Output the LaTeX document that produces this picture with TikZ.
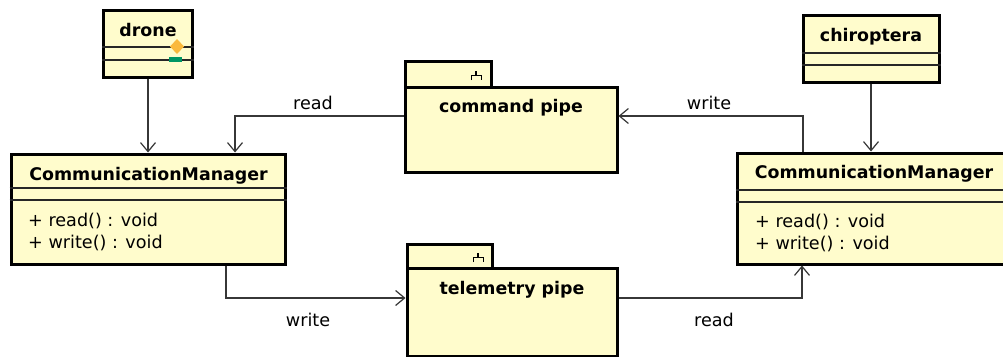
\documentclass[tikz,border=0pt]{standalone}
\usepackage{fontspec}
\setmainfont{DejaVu Sans}
\usetikzlibrary{arrows.meta}
\definecolor{boxfill}{RGB}{255,252,204}
\definecolor{linegray}{RGB}{55,55,55}
\definecolor{diamondorange}{RGB}{250,185,60}
\definecolor{barteal}{RGB}{0,150,100}
\tikzset{
  boxframe/.style={draw=black, line width=3pt, fill=boxfill, inner sep=0pt},
  sepline/.style={draw=black!85, line width=1.4pt},
  conn/.style={draw=linegray, line width=1.2pt, -{Straight Barb[length=9pt,width=15pt,line width=1.2pt]}},
  titletext/.style={anchor=base, inner sep=0pt, font=\fontsize{17.4}{20}\selectfont\bfseries},
  membertext/.style={anchor=base west, inner sep=0pt, font=\fontsize{17.6}{20}\selectfont},
  edgetext/.style={anchor=base, inner sep=0pt, font=\fontsize{17.6}{20}\selectfont},
  forkicon/.style={draw=black, line width=1.1pt}
}
\begin{document}
\begin{tikzpicture}[x=1pt, y=-1pt]
\useasboundingbox (0,0) rectangle (1003,356);
\fill[white] (0,0) rectangle (1003,356);

% ---- drone class ----
\node[boxframe, minimum width=89pt, minimum height=67pt] (drone) at (148,43.5) {};
\draw[sepline] (drone.west |- 0,47) -- (drone.east |- 0,47);
\draw[sepline] (drone.west |- 0,60) -- (drone.east |- 0,60);
\node[titletext] (droneT) at (148,36) {drone};
\fill[diamondorange] (177,39) -- (184,46.5) -- (177,54) -- (170,46.5) -- cycle;
\fill[barteal] (169,57) rectangle (182,62);

% ---- chiroptera class ----
\node[boxframe, minimum width=136pt, minimum height=67pt] (chiro) at (871,48.5) {};
\draw[sepline] (chiro.west |- 0,53) -- (chiro.east |- 0,53);
\draw[sepline] (chiro.west |- 0,65) -- (chiro.east |- 0,65);
\node[titletext] (chiroT) at (871,41) {chiroptera};

% ---- left CommunicationManager ----
\node[boxframe, minimum width=274pt, minimum height=110pt] (cmL) at (148,209) {};
\draw[sepline] (cmL.west |- 0,188) -- (cmL.east |- 0,188);
\draw[sepline] (cmL.west |- 0,200) -- (cmL.east |- 0,200);
\node[titletext] (cmLT) at (148.5,180) {CommunicationManager};
\node[membertext] (cmLr) at (28,226) {+ read() : void};
\node[membertext] (cmLw) at (28,248) {+ write() : void};

% ---- right CommunicationManager ----
\node[boxframe, minimum width=274pt, minimum height=111pt] (cmR) at (874,208.5) {};
\draw[sepline] (cmR.west |- 0,190) -- (cmR.east |- 0,190);
\draw[sepline] (cmR.west |- 0,202) -- (cmR.east |- 0,202);
\node[titletext] (cmRT) at (874,178) {CommunicationManager};
\node[membertext] (cmRr) at (755,227) {+ read() : void};
\node[membertext] (cmRw) at (755,249) {+ write() : void};

% ---- command pipe package ----
\node[boxframe, minimum width=86pt, minimum height=26pt] (cmdtab) at (448,74) {};
\node[boxframe, minimum width=212pt, minimum height=85pt] (cmd) at (511,129.5) {};
\draw[forkicon] (476,71) -- (476,75.5) (471.5,80) -- (471.5,75.5) -- (481.5,75.5) -- (481.5,80);
\node[titletext] (cmdT) at (511,112) {command pipe};

% ---- telemetry pipe package ----
\node[boxframe, minimum width=85pt, minimum height=24pt] (teltab) at (449.5,256) {};
\node[boxframe, minimum width=210pt, minimum height=88pt] (tel) at (512,312) {};
\draw[forkicon] (478,253) -- (478,257.5) (473.5,262) -- (473.5,257.5) -- (483.5,257.5) -- (483.5,262);
\node[titletext] (telT) at (512,294) {telemetry pipe};

% ---- connectors ----
\draw[conn] (drone.south) -- (drone.south |- cmL.north);
\draw[conn] (chiro.south) -- (chiro.south |- cmR.north);

\coordinate (cmdL) at (cmd.west |- 0,116);
\coordinate (cmdR) at (cmd.east |- 0,116);
\coordinate (telL) at (tel.west |- 0,298);
\coordinate (telR) at (tel.east |- 0,298);

\draw[conn] (cmdL) -| (cmL.north -| 235,0);
\draw[conn] (cmR.north -| 803,0) |- (cmdR);
\draw[conn] (cmL.south -| 226,0) |- (telL);
\draw[conn] (telR) -| (cmR.south -| 802,0);

\node[edgetext] (lblReadTop) at (313,109) {read};
\node[edgetext] (lblWriteTop) at (709,109) {write};
\node[edgetext] (lblWriteBot) at (308,326) {write};
\node[edgetext] (lblReadBot) at (714,326) {read};
\end{tikzpicture}
\end{document}
